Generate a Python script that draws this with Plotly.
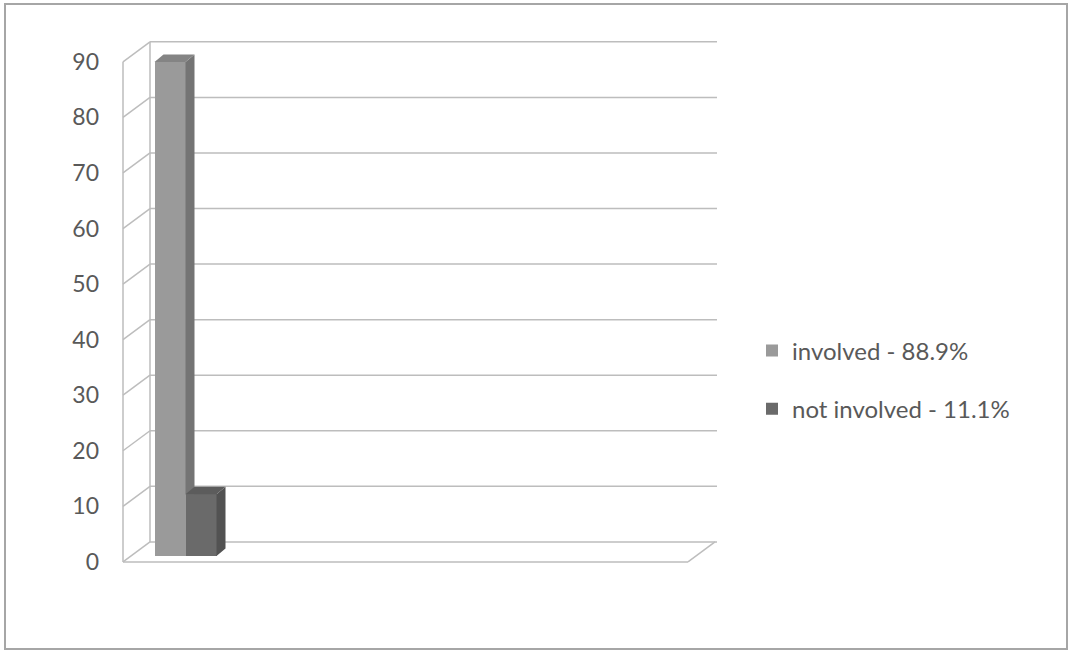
import plotly.graph_objects as go

# ---------------- data ----------------
series_names = ["involved - 88.9%", "not involved - 11.1%"]
values = [88.9, 11.1]
y_ticks = [0, 10, 20, 30, 40, 50, 60, 70, 80, 90]
category = [0]

# ---------------- styling / geometry (pixels -> axis units) ----------------
W, H = 1074, 652
ML, MR, MT, MB = 118, 354, 37, 79
PX_X = 62.0          # pixels per x unit (one category = 62 px)
PX_Y = 5.556         # pixels per y unit
plot_w = W - ML - MR
plot_h = H - MT - MB
x_wall = -62.5 / PX_X             # front wall / axis position
x_lo = x_wall - 5 / PX_X
x_hi = x_lo + plot_w / PX_X
y_lo = -2.0
y_hi = y_lo + plot_h / PX_Y

wall_dx = 27 / PX_X               # back-wall depth offset
wall_dy = 20 / PX_Y
bar_base = 6 / PX_Y               # bars sit slightly inside the floor
bar_ddx = 9 / PX_X                # bar depth
bar_ddy = 7.5 / PX_Y

front_cols = ["#9a9a9a", "#6a6a6a"]
side_cols = ["#747474", "#525252"]
top_cols = ["#848484", "#5c5c5c"]
grid_col = "#bdbdbd"
text_col = "#595959"
FONT = "Lato, Open Sans, sans-serif"

fig = go.Figure()

# front faces as bar traces
n = len(values)
bw = 1.0 / n
for i, (name, v) in enumerate(zip(series_names, values)):
    fig.add_trace(go.Bar(
        x=category, y=[v], base=bar_base, name=name,
        marker=dict(color=front_cols[i], line=dict(width=0)),
        legendgroup=name, hoverinfo="skip",
    ))

# 3-D side and top faces computed from the values
tops = [bar_base + v for v in values]
for i, v in enumerate(values):
    left = category[0] - 0.5 + i * bw
    right = left + bw
    t = tops[i]
    b = bar_base
    # visible lower limit of the side face (hidden by the next bar's front)
    lo = tops[i + 1] if i + 1 < n else b
    lo = max(lo, b)
    sx = [right, right + bar_ddx, right + bar_ddx, right, right]
    sy = [lo, lo + (bar_ddy if i + 1 >= n else 0), t + bar_ddy, t, lo]
    fig.add_trace(go.Scatter(x=sx, y=sy, fill="toself", fillcolor=side_cols[i],
                             mode="lines", line=dict(width=0, color=side_cols[i]),
                             showlegend=False, hoverinfo="skip"))
    tx = [left, left + bar_ddx, right + bar_ddx, right, left]
    ty = [t, t + bar_ddy, t + bar_ddy, t, t]
    fig.add_trace(go.Scatter(x=tx, y=ty, fill="toself", fillcolor=top_cols[i],
                             mode="lines", line=dict(width=0, color=top_cols[i]),
                             showlegend=False, hoverinfo="skip"))

# walls, floor and gridlines (drawn below the traces)
shapes = []
line = dict(color=grid_col, width=1.5)
x_back = x_wall + wall_dx
x_floor_right = x_hi - (5 / PX_X) - wall_dx
for v in y_ticks:
    # back-wall gridline
    shapes.append(dict(type="line", xref="x", yref="y", layer="below",
                       x0=x_back, x1=x_hi - 3 / PX_X, y0=v + wall_dy, y1=v + wall_dy, line=line))
    # side-wall diagonal
    shapes.append(dict(type="line", xref="x", yref="y", layer="below",
                       x0=x_wall, x1=x_back, y0=v, y1=v + wall_dy, line=line))
# front axis line and back vertical
shapes.append(dict(type="line", xref="x", yref="y", layer="below",
                   x0=x_wall, x1=x_wall, y0=y_ticks[0], y1=y_ticks[-1], line=line))
shapes.append(dict(type="line", xref="x", yref="y", layer="below",
                   x0=x_back, x1=x_back, y0=y_ticks[0] + wall_dy, y1=y_ticks[-1] + wall_dy, line=line))
# floor front edge and right edge
shapes.append(dict(type="line", xref="x", yref="y", layer="below",
                   x0=x_wall, x1=x_floor_right, y0=0, y1=0, line=line))
shapes.append(dict(type="line", xref="x", yref="y", layer="below",
                   x0=x_floor_right, x1=x_floor_right + wall_dx, y0=0, y1=wall_dy, line=line))
# outer chart border
shapes.append(dict(type="rect", xref="paper", yref="paper", layer="below",
                   x0=(5 - ML) / plot_w, x1=(1067 - ML) / plot_w,
                   y0=(H - MB - 649) / plot_h, y1=(H - MB - 4) / plot_h,
                   line=dict(color="#a6a6a6", width=2)))

fig.update_layout(
    width=W, height=H,
    margin=dict(l=ML, r=MR, t=MT, b=MB, pad=0),
    paper_bgcolor="white", plot_bgcolor="rgba(0,0,0,0)",
    barmode="group", bargap=0, bargroupgap=0,
    shapes=shapes,
    font=dict(family=FONT, color=text_col),
    xaxis=dict(range=[x_lo, x_hi], showgrid=False, zeroline=False,
               showticklabels=False, showline=False, fixedrange=True),
    yaxis=dict(range=[y_lo, y_hi], showgrid=False, zeroline=False, showline=False,
               tickmode="array", tickvals=y_ticks, ticktext=[str(t) for t in y_ticks],
               tickfont=dict(size=23, color=text_col, family=FONT),
               ticks="", ticklabelstandoff=18, fixedrange=True),
    legend=dict(x=(752 - ML) / plot_w, xanchor="left",
                y=(H - MB - 380) / plot_h, yanchor="middle",
                font=dict(size=24, color=text_col, family=FONT),
                traceorder="grouped", tracegroupgap=24,
                bgcolor="rgba(0,0,0,0)"),
    showlegend=True,
)

fig.write_html("out.html", config={"displayModeBar": False},
               post_script="document.body.style.margin='0';document.body.style.padding='0';")
